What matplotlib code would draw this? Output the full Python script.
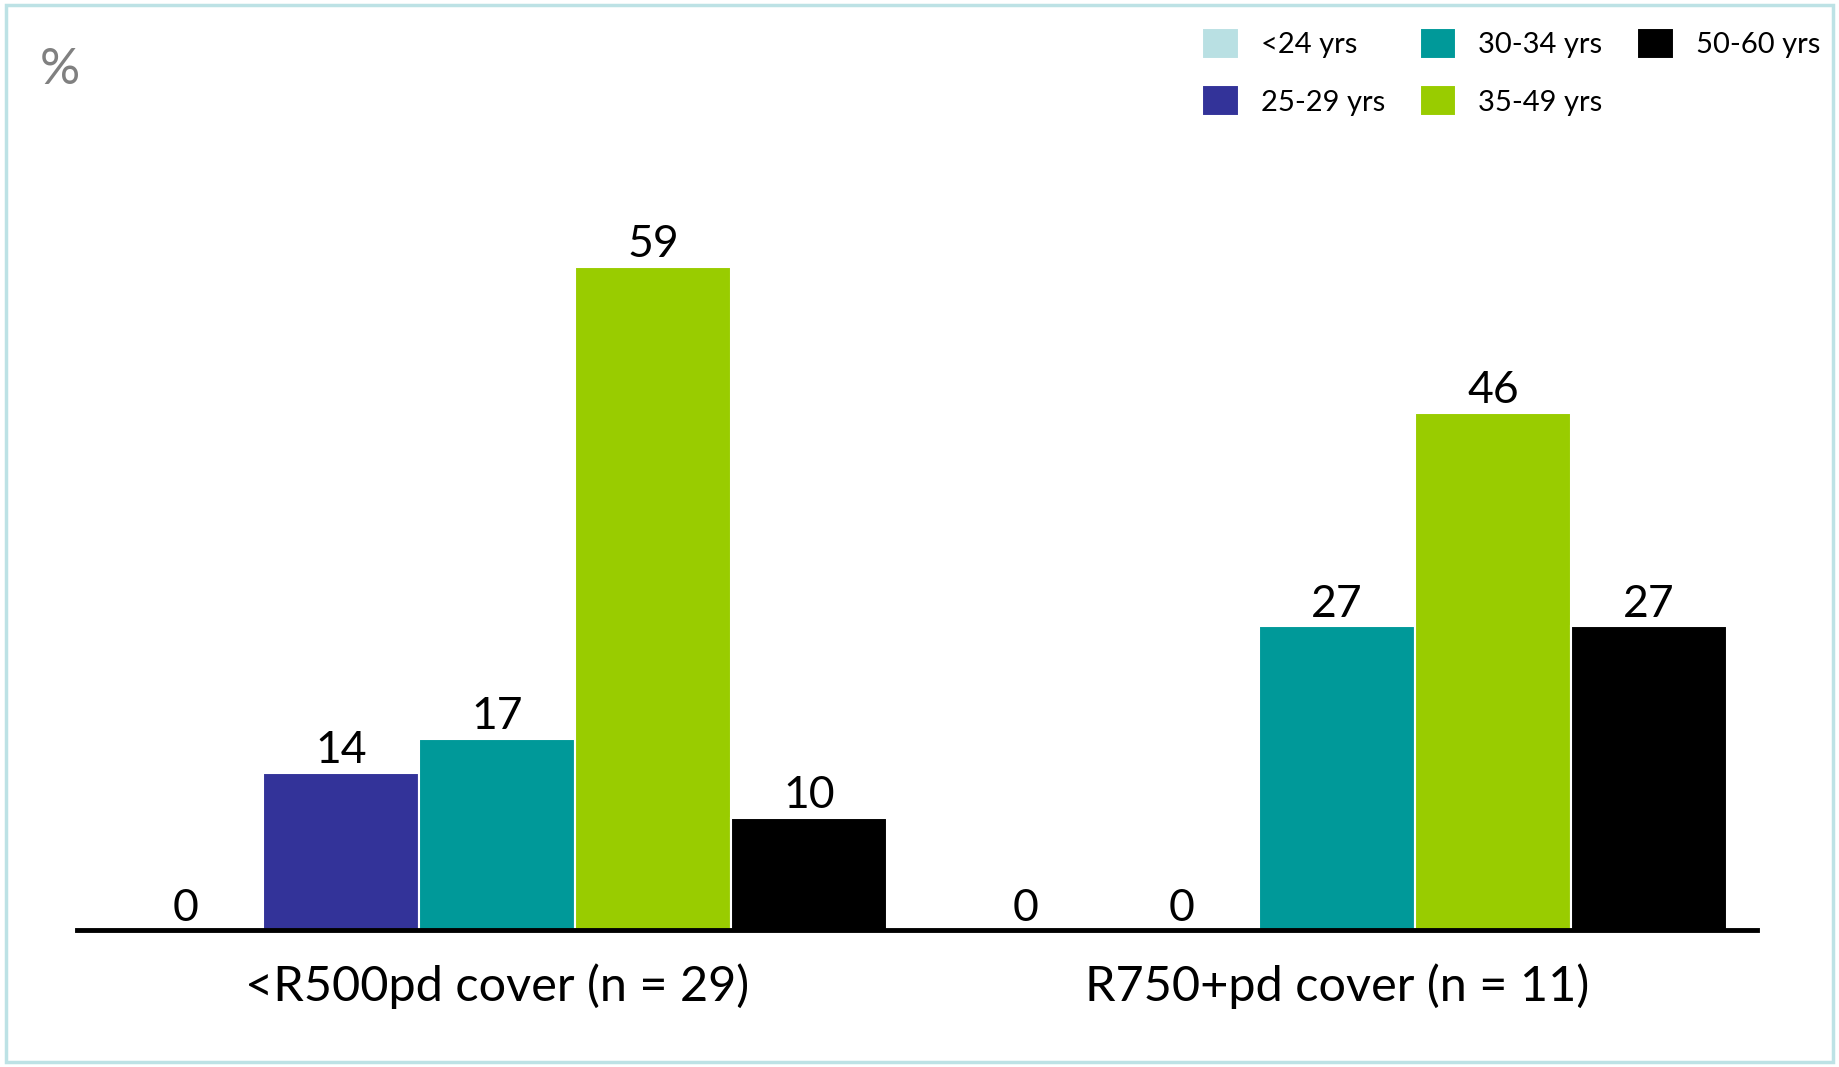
import matplotlib.pyplot as plt
import numpy as np
from matplotlib.patches import Rectangle

plt.rcParams['font.family'] = ['Lato', 'DejaVu Sans']

# cover groups and age bands
groups = ['<R500pd cover (n = 29)', 'R750+pd cover (n = 11)']
age_bands = ['<24 yrs', '25-29 yrs', '30-34 yrs', '35-49 yrs', '50-60 yrs']
shares = [
    [0, 14, 17, 59, 10],   # <24 .. 50-60 for <R500pd
    [0, 0, 27, 46, 27],    # <24 .. 50-60 for R750+pd
]
band_colors = ['#b9e0e3', '#333399', '#009999', '#99cc00', '#000000']

fig = plt.figure(figsize=(18.39, 10.67), dpi=100)
ax = fig.add_axes([77 / 1839, 1 - 930 / 1067, (1757 - 77) / 1839, (930 - 143) / 1067])

x = np.arange(len(groups))
width = 0.1856
vals = np.array(shares)
for i, band in enumerate(age_bands):
    offs = (i - 2) * width
    bars = ax.bar(x + offs, vals[:, i], width, color=band_colors[i],
                  edgecolor='white', linewidth=1.5, label=band, zorder=2)
    ax.bar_label(bars, labels=[str(v) for v in vals[:, i]], padding=1,
                 fontsize=32, color='black')

ax.set_xlim(-0.5, 1.5)
ax.set_ylim(0, 70)
ax.set_xticks(x)
ax.set_xticklabels(groups, fontsize=35)
ax.tick_params(axis='x', length=0, pad=24)
ax.set_yticks([])
for side in ['top', 'right', 'left']:
    ax.spines[side].set_visible(False)
ax.spines['bottom'].set_linewidth(3.5)
ax.spines['bottom'].set_zorder(3)

fig.text(40 / 1839, 1 - 70 / 1067, '%', fontsize=36, color='#808080', va='center')

fig.legend(loc='upper left', bbox_to_anchor=(1176 / 1839, 1 - 2 / 1067), ncol=3,
           frameon=False, fontsize=21, handlelength=1.25, handleheight=1.25,
           handletextpad=0.75, columnspacing=1.2, labelspacing=0.9)

# light border round the whole figure
fig.patches.append(Rectangle((6 / 1839, 5 / 1067), 1 - 12 / 1839, 1 - 10 / 1067,
                             transform=fig.transFigure, fill=False,
                             edgecolor='#bde2e5', linewidth=2.5))

fig.savefig('out.png', dpi=100)
